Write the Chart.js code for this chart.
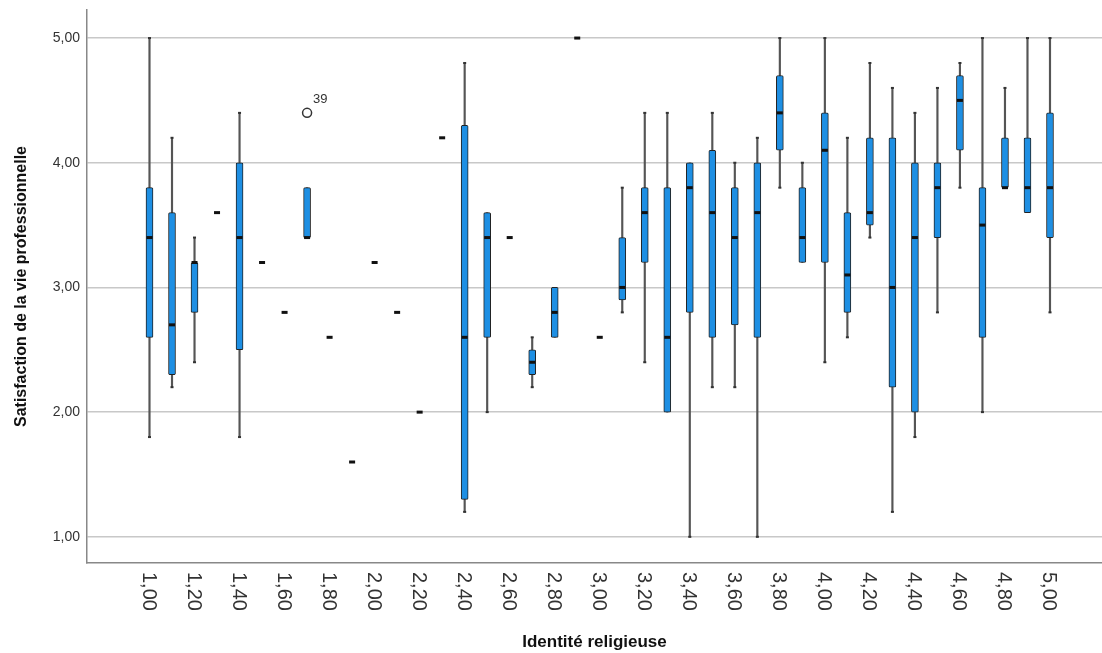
<!DOCTYPE html>
<html>
<head>
<meta charset="utf-8">
<script src="https://cdn.jsdelivr.net/npm/chart.js@4.4.1/dist/chart.umd.min.js"></script>
<style>
	html, body { margin: 0; padding: 0; background: #fff; }
	#wrap { width: 1102px; height: 653px; }
</style>
</head>
<body>
<div id="wrap"><canvas id="myChart" width="1102" height="653"></canvas></div>
<script>
/* boxplot : satisfaction de la vie professionnelle par identité religieuse */

var categories = [1.0, 1.1, 1.2, 1.3, 1.4, 1.5, 1.6, 1.7, 1.8, 1.9,
	2.0, 2.1, 2.2, 2.3, 2.4, 2.5, 2.6, 2.7, 2.8, 2.9,
	3.0, 3.1, 3.2, 3.3, 3.4, 3.5, 3.6, 3.7, 3.8, 3.9,
	4.0, 4.1, 4.2, 4.3, 4.4, 4.5, 4.6, 4.7, 4.8, 4.9, 5.0];

var whiskerLow  = [1.8, 2.2, 2.4, 3.6, 1.8, 3.2, 2.8, 3.4, 2.6, 1.6,
	3.2, 2.8, 2.0, 4.2, 1.2, 2.0, 3.4, 2.2, 2.6, 5.0,
	2.6, 2.8, 2.4, 2.0, 1.0, 2.2, 2.2, 1.0, 3.8, 3.2,
	2.4, 2.6, 3.4, 1.2, 1.8, 2.8, 3.8, 2.0, 3.8, 3.6, 2.8];
var q1          = [2.6, 2.3, 2.8, 3.6, 2.5, 3.2, 2.8, 3.4, 2.6, 1.6,
	3.2, 2.8, 2.0, 4.2, 1.3, 2.6, 3.4, 2.3, 2.6, 5.0,
	2.6, 2.9, 3.2, 2.0, 2.8, 2.6, 2.7, 2.6, 4.1, 3.2,
	3.2, 2.8, 3.5, 2.2, 2.0, 3.4, 4.1, 2.6, 3.8, 3.6, 3.4];
var median      = [3.4, 2.7, 3.2, 3.6, 3.4, 3.2, 2.8, 3.4, 2.6, 1.6,
	3.2, 2.8, 2.0, 4.2, 2.6, 3.4, 3.4, 2.4, 2.8, 5.0,
	2.6, 3.0, 3.6, 2.6, 3.8, 3.6, 3.4, 3.6, 4.4, 3.4,
	4.1, 3.1, 3.6, 3.0, 3.4, 3.8, 4.5, 3.5, 3.8, 3.8, 3.8];
var q3          = [3.8, 3.6, 3.2, 3.6, 4.0, 3.2, 2.8, 3.8, 2.6, 1.6,
	3.2, 2.8, 2.0, 4.2, 4.3, 3.6, 3.4, 2.5, 3.0, 5.0,
	2.6, 3.4, 3.8, 3.8, 4.0, 4.1, 3.8, 4.0, 4.7, 3.8,
	4.4, 3.6, 4.2, 4.2, 4.0, 4.0, 4.7, 3.8, 4.2, 4.2, 4.4];
var whiskerHigh = [5.0, 4.2, 3.4, 3.6, 4.4, 3.2, 2.8, 3.8, 2.6, 1.6,
	3.2, 2.8, 2.0, 4.2, 4.8, 3.6, 3.4, 2.6, 3.0, 5.0,
	2.6, 3.8, 4.4, 4.4, 4.0, 4.4, 4.0, 4.2, 5.0, 4.0,
	5.0, 4.2, 4.8, 4.6, 4.4, 4.6, 4.8, 5.0, 4.6, 5.0, 5.0];

var outlierCats   = [1.7];
var outlierValues = [4.4];
var outlierLabels = ['39'];

var xTicks = [1.0, 1.2, 1.4, 1.6, 1.8, 2.0, 2.2, 2.4, 2.6, 2.8, 3.0,
	3.2, 3.4, 3.6, 3.8, 4.0, 4.2, 4.4, 4.6, 4.8, 5.0];
var yTicks = [1, 2, 3, 4, 5];

var FONT = '"Liberation Sans", Arial, sans-serif';

function fmt(v) {
	return v.toFixed(2).replace('.', ',');
}

var whiskerData = [], boxData = [];
categories.forEach(function(c, i) {
	if (whiskerHigh[i] > whiskerLow[i]) whiskerData.push({x: c, y: [whiskerLow[i], whiskerHigh[i]]});
	if (q3[i] > q1[i]) boxData.push({x: c, y: [q1[i], q3[i]]});
});

var outlierData = outlierCats.map(function(c, i) {
	return {x: c, y: outlierValues[i]};
});

/* medians, whisker ends, outlier ids and rotated x labels */
var boxExtras = {
	id: 'boxExtras',
	afterDatasetsDraw: function(chart) {
		var ctx = chart.ctx, xs = chart.scales.x, ys = chart.scales.y;
		ctx.save();
		categories.forEach(function(c, i) {
			var px = xs.getPixelForValue(c);
			ctx.fillStyle = '#333';
			if (whiskerHigh[i] > q3[i]) ctx.fillRect(px - 1.5, ys.getPixelForValue(whiskerHigh[i]) - 1, 3, 2);
			if (whiskerLow[i] < q1[i]) ctx.fillRect(px - 1.5, ys.getPixelForValue(whiskerLow[i]) - 1, 3, 2);
			ctx.fillStyle = '#111';
			ctx.fillRect(px - 3, ys.getPixelForValue(median[i]) - 1.5, 6, 3);
		});
		ctx.fillStyle = '#333';
		ctx.font = '13px ' + FONT;
		ctx.textAlign = 'left';
		ctx.textBaseline = 'middle';
		outlierCats.forEach(function(c, i) {
			ctx.fillText(outlierLabels[i], xs.getPixelForValue(c) + 6, ys.getPixelForValue(outlierValues[i]) - 13);
		});
		ctx.restore();
	},
	afterDraw: function(chart) {
		var ctx = chart.ctx, xs = chart.scales.x;
		ctx.save();
		ctx.fillStyle = '#333';
		ctx.font = '20px ' + FONT;
		ctx.textAlign = 'left';
		ctx.textBaseline = 'middle';
		xTicks.forEach(function(t) {
			ctx.save();
			ctx.translate(xs.getPixelForValue(t) - 1, xs.bottom - 81);
			ctx.rotate(Math.PI / 2);
			ctx.fillText(fmt(t), 0, 0);
			ctx.restore();
		});
		ctx.restore();
	}
};

var ctx = document.getElementById('myChart').getContext('2d');

var config = {
	type: 'bar',
	data: {
		datasets: [{
			label: 'moustaches',
			data: whiskerData,
			grouped: false,
			order: 3,
			barThickness: 1.5,
			backgroundColor: '#555',
			borderWidth: 0
		}, {
			label: 'boîtes',
			data: boxData,
			grouped: false,
			order: 2,
			barThickness: 7,
			backgroundColor: '#1E8FE3',
			borderColor: '#222',
			borderWidth: 1,
			borderSkipped: false,
			borderRadius: 1.5
		}, {
			type: 'scatter',
			label: 'valeurs atypiques',
			data: outlierData,
			order: 1,
			pointRadius: 4.5,
			pointBorderWidth: 1.5,
			backgroundColor: '#fff',
			borderColor: '#333'
		}]
	},
	plugins: [boxExtras],
	options: {
		responsive: false,
		animation: false,
		layout: { autoPadding: false, padding: { top: 10, right: 0, left: 0, bottom: 0 } },
		plugins: {
			legend: { display: false },
			tooltip: { enabled: false }
		},
		scales: {
			x: {
				type: 'linear',
				min: 0.7224,
				max: 5.231,
				offset: false,
				grid: { display: false, offset: false },
				border: { display: true, color: '#888', width: 1.5 },
				ticks: { display: false },
				afterFit: function(scale) {
					scale.height = 90;
					scale.paddingLeft = 0;
					scale.paddingRight = 0;
				},
				title: {
					display: true,
					text: 'Identité religieuse',
					color: '#111',
					font: { family: FONT, size: 17, weight: 'bold' },
					padding: { top: 0, bottom: 0 }
				}
			},
			y: {
				type: 'linear',
				min: 0.79,
				max: 5.225,
				beginAtZero: false,
				afterBuildTicks: function(scale) {
					scale.ticks = yTicks.map(function(v) { return {value: v}; });
				},
				afterFit: function(scale) {
					scale.width = 87;
					scale.paddingTop = 0;
					scale.paddingBottom = 0;
				},
				grid: { color: '#c8c8c8', lineWidth: 1.5, drawTicks: false },
				border: { display: true, color: '#888', width: 1.5 },
				ticks: {
					color: '#333',
					padding: 7,
					font: { family: FONT, size: 14 },
					callback: function(v) { return fmt(v); }
				},
				title: {
					display: true,
					text: 'Satisfaction de la vie professionnelle',
					color: '#111',
					font: { family: FONT, size: 16, weight: 'bold' },
					padding: { top: 12, bottom: 0 }
				}
			}
		}
	}
};

var myChart = new Chart(ctx, config);
</script>
</body>
</html>
